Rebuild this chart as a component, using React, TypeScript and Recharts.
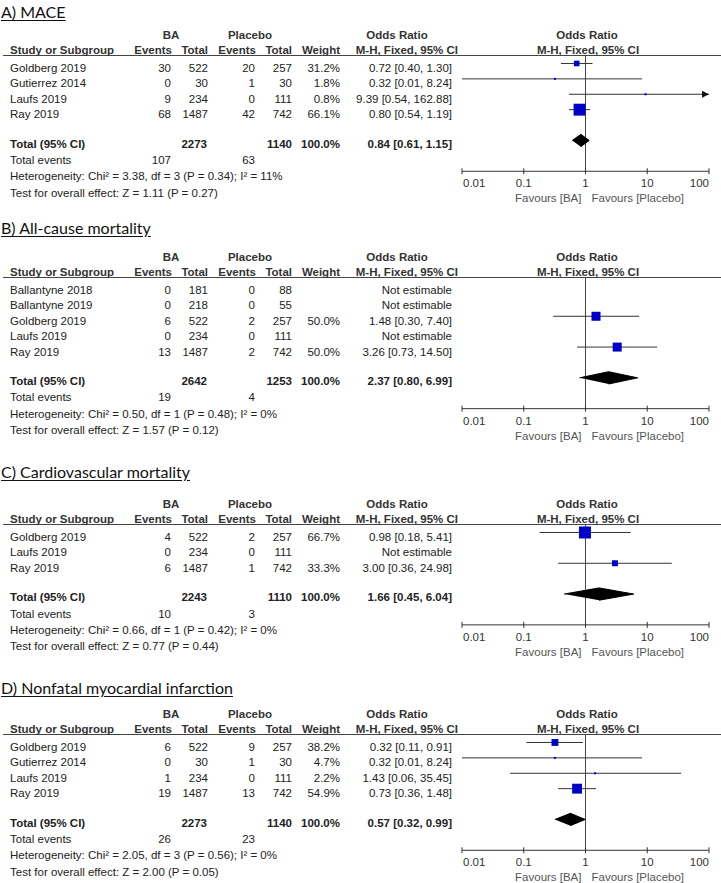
import React from 'react';
import { ScatterChart, Scatter, XAxis, YAxis, ReferenceLine } from 'recharts';

const ROW = 15.4;
const SANS = 'Arial, "Liberation Sans", Helvetica, sans-serif';
const INK = '#222';
const BOX = '#0000c8';
const orTicks = [0.01, 0.1, 1, 10, 100];

// A) MACE
const aStudies = ['Goldberg 2019', 'Gutierrez 2014', 'Laufs 2019', 'Ray 2019'];
const aBaEvents = [30, 0, 9, 68];
const aBaTotal = [522, 30, 234, 1487];
const aPlEvents = [20, 1, 0, 42];
const aPlTotal = [257, 30, 111, 742];
const aWeight = [31.2, 1.8, 0.8, 66.1];
const aOr = [0.72, 0.32, 9.39, 0.8];
const aLow = [0.4, 0.01, 0.54, 0.54];
const aHigh = [1.3, 8.24, 162.88, 1.19];
const aPooled = [0.84, 0.61, 1.15];
const aTotals = [2273, 1140];
const aEvents = [107, 63];
const aHet = 'Heterogeneity: Chi² = 3.38, df = 3 (P = 0.34); I² = 11%';
const aTest = 'Test for overall effect: Z = 1.11 (P = 0.27)';

// B) All-cause mortality
const bStudies = ['Ballantyne 2018', 'Ballantyne 2019', 'Goldberg 2019', 'Laufs 2019', 'Ray 2019'];
const bBaEvents = [0, 0, 6, 0, 13];
const bBaTotal = [181, 218, 522, 234, 1487];
const bPlEvents = [0, 0, 2, 0, 2];
const bPlTotal = [88, 55, 257, 111, 742];
const bWeight = [null, null, 50.0, null, 50.0];
const bOr = [null, null, 1.48, null, 3.26];
const bLow = [null, null, 0.3, null, 0.73];
const bHigh = [null, null, 7.4, null, 14.5];
const bPooled = [2.37, 0.8, 6.99];
const bTotals = [2642, 1253];
const bEvents = [19, 4];
const bHet = 'Heterogeneity: Chi² = 0.50, df = 1 (P = 0.48); I² = 0%';
const bTest = 'Test for overall effect: Z = 1.57 (P = 0.12)';

// C) Cardiovascular mortality
const cStudies = ['Goldberg 2019', 'Laufs 2019', 'Ray 2019'];
const cBaEvents = [4, 0, 6];
const cBaTotal = [522, 234, 1487];
const cPlEvents = [2, 0, 1];
const cPlTotal = [257, 111, 742];
const cWeight = [66.7, null, 33.3];
const cOr = [0.98, null, 3.0];
const cLow = [0.18, null, 0.36];
const cHigh = [5.41, null, 24.98];
const cPooled = [1.66, 0.45, 6.04];
const cTotals = [2243, 1110];
const cEvents = [10, 3];
const cHet = 'Heterogeneity: Chi² = 0.66, df = 1 (P = 0.42); I² = 0%';
const cTest = 'Test for overall effect: Z = 0.77 (P = 0.44)';

// D) Nonfatal myocardial infarction
const dStudies = ['Goldberg 2019', 'Gutierrez 2014', 'Laufs 2019', 'Ray 2019'];
const dBaEvents = [6, 0, 1, 19];
const dBaTotal = [522, 30, 234, 1487];
const dPlEvents = [9, 1, 0, 13];
const dPlTotal = [257, 30, 111, 742];
const dWeight = [38.2, 4.7, 2.2, 54.9];
const dOr = [0.32, 0.32, 1.43, 0.73];
const dLow = [0.11, 0.01, 0.06, 0.36];
const dHigh = [0.91, 8.24, 35.45, 1.48];
const dPooled = [0.57, 0.32, 0.99];
const dTotals = [2273, 1140];
const dEvents = [26, 23];
const dHet = 'Heterogeneity: Chi² = 2.05, df = 3 (P = 0.56); I² = 0%';
const dTest = 'Test for overall effect: Z = 2.00 (P = 0.05)';

const ci = (or: number, lo: number, hi: number) => `${or.toFixed(2)} [${lo.toFixed(2)}, ${hi.toFixed(2)}]`;

function Txt({ x, y, anchor = 'start', bold = false, color = INK, children }: any) {
    return (
        <text x={x} y={y} textAnchor={anchor} dominantBaseline="central" fontFamily={SANS} fontSize={11.5}
            fontWeight={bold ? 'bold' : 'normal'} fill={color}>
            {children}
        </text>
    );
}

function OrTick(props: any) {
    const { x, y, payload } = props;
    const v = payload.value;
    const anchor = v === orTicks[0] ? 'start' : v === orTicks[orTicks.length - 1] ? 'end' : 'middle';
    const lx = v === orTicks[0] ? x + 1 : x;
    return (
        <g>
            <line x1={x} x2={x} y1={y - 3} y2={y + 3} stroke="#333" />
            <text x={lx} y={y + 12} textAnchor={anchor} dominantBaseline="central" fontFamily={SANS} fontSize={11.5} fill="#333">
                {String(v)}
            </text>
            {v === 1 && (
                <>
                    <text x={x - 4} y={y + 27} textAnchor="end" dominantBaseline="central" fontFamily={SANS} fontSize={11.5} fill="#555">
                        Favours [BA]
                    </text>
                    <text x={x + 6} y={y + 27} textAnchor="start" dominantBaseline="central" fontFamily={SANS} fontSize={11.5} fill="#555">
                        Favours [Placebo]
                    </text>
                </>
            )}
        </g>
    );
}

function ForestPanel(p: any) {
    const { title, titleY, lineY, studies, baEvents, baTotal, plEvents, plTotal, weight, or, low, high, pooled, totals, events, het, test } = p;
    const n = studies.length;
    const rowY = (i: number) => lineY + 13 + i * ROW;
    const totalY = rowY(n - 1) + 29.5;
    const yMax = n + 3.55;
    const plotH = yMax * ROW;
    const totalRow = n + 1.55;

    const idx = studies.map((_: string, i: number) => i).filter((i: number) => or[i] != null);
    const boxes = idx.map((i: number) => ({ x: or[i], y: i + 0.55, w: weight[i] }));
    const lines = idx.map((i: number) => [
        { x: low[i], y: i + 0.55 },
        { x: Math.min(high[i], 100), y: i + 0.55, arrow: high[i] > 100 },
    ]);
    const diamond = [
        { x: pooled[1], y: totalRow },
        { x: pooled[0], y: totalRow - 0.4 },
        { x: pooled[2], y: totalRow },
        { x: pooled[0], y: totalRow + 0.4 },
    ];

    return (
        <>
            <div style={{
                position: 'absolute', left: 1, top: titleY - 12, fontFamily: 'Lato, "Open Sans", sans-serif', fontSize: 16,
                lineHeight: '24px', color: '#111', textDecoration: 'underline', textUnderlineOffset: 2, whiteSpace: 'nowrap',
            }}>
                {title}
            </div>
            <div style={{ position: 'absolute', left: 440, top: lineY, width: 281, height: plotH + 40 }}>
                <ScatterChart width={281} height={plotH + 40} margin={{ top: 0, right: 12, bottom: 0, left: 22 }}>
                    <XAxis type="number" dataKey="x" scale="log" domain={[0.01, 100]} ticks={orTicks} allowDataOverflow
                        interval={0} height={40} axisLine={{ stroke: '#333' }} tickLine={false} tickSize={0} tickMargin={0}
                        tick={<OrTick />} />
                    <YAxis type="number" dataKey="y" domain={[0, yMax]} reversed hide allowDataOverflow />
                    {lines.map((d: any, k: number) => (
                        <Scatter key={`ci${k}`} data={d} isAnimationActive={false} line={{ stroke: '#333', strokeWidth: 1 }}
                            lineJointType="linear" fill="#333"
                            shape={(s: any) => s.payload && s.payload.arrow
                                ? <polygon points={`${s.cx - 7},${s.cy - 3.5} ${s.cx},${s.cy} ${s.cx - 7},${s.cy + 3.5}`} fill="#111" />
                                : <g />} />
                    ))}
                    <Scatter data={boxes} isAnimationActive={false} fill={BOX}
                        shape={(s: any) => {
                            const side = Math.max(2, s.payload.w * 0.18);
                            return <rect x={s.cx - side / 2} y={s.cy - side / 2} width={side} height={side} fill={BOX} />;
                        }} />
                    <Scatter data={diamond} isAnimationActive={false} fill="#000" line={{ stroke: '#000', fill: '#000', strokeWidth: 1 }}
                        lineJointType="linear" shape={() => <g />} />
                    <ReferenceLine x={1} stroke="#444" strokeWidth={1} />
                </ScatterChart>
            </div>
            <svg width={721} height={883} style={{ position: 'absolute', left: 0, top: 0, pointerEvents: 'none' }}>
                <line x1={3} x2={721} y1={lineY + 0.5} y2={lineY + 0.5} stroke="#444" strokeWidth={1} />
                <Txt x={171} y={lineY - 20} anchor="middle" bold color="#333">BA</Txt>
                <Txt x={250} y={lineY - 20} anchor="middle" bold color="#333">Placebo</Txt>
                <Txt x={397} y={lineY - 20} anchor="middle" bold color="#333">Odds Ratio</Txt>
                <Txt x={587} y={lineY - 20} anchor="middle" bold color="#333">Odds Ratio</Txt>
                <Txt x={10} y={lineY - 5.5} bold color="#333">Study or Subgroup</Txt>
                <Txt x={172} y={lineY - 5.5} anchor="end" bold color="#333">Events</Txt>
                <Txt x={208} y={lineY - 5.5} anchor="end" bold color="#333">Total</Txt>
                <Txt x={256} y={lineY - 5.5} anchor="end" bold color="#333">Events</Txt>
                <Txt x={292} y={lineY - 5.5} anchor="end" bold color="#333">Total</Txt>
                <Txt x={340} y={lineY - 5.5} anchor="end" bold color="#333">Weight</Txt>
                <Txt x={458} y={lineY - 5.5} anchor="end" bold color="#333">M-H, Fixed, 95% CI</Txt>
                <Txt x={588} y={lineY - 5.5} anchor="middle" bold color="#333">M-H, Fixed, 95% CI</Txt>
                {studies.map((s: string, i: number) => (
                    <g key={s}>
                        <Txt x={10} y={rowY(i)}>{s}</Txt>
                        <Txt x={171} y={rowY(i)} anchor="end">{baEvents[i]}</Txt>
                        <Txt x={208} y={rowY(i)} anchor="end">{baTotal[i]}</Txt>
                        <Txt x={255} y={rowY(i)} anchor="end">{plEvents[i]}</Txt>
                        <Txt x={292} y={rowY(i)} anchor="end">{plTotal[i]}</Txt>
                        <Txt x={340} y={rowY(i)} anchor="end">{weight[i] != null ? `${weight[i].toFixed(1)}%` : ''}</Txt>
                        <Txt x={452} y={rowY(i)} anchor="end">{or[i] != null ? ci(or[i], low[i], high[i]) : 'Not estimable'}</Txt>
                    </g>
                ))}
                <Txt x={10} y={totalY} bold>Total (95% CI)</Txt>
                <Txt x={207} y={totalY} anchor="end" bold>{totals[0]}</Txt>
                <Txt x={292} y={totalY} anchor="end" bold>{totals[1]}</Txt>
                <Txt x={340} y={totalY} anchor="end" bold>100.0%</Txt>
                <Txt x={452} y={totalY} anchor="end" bold>{ci(pooled[0], pooled[1], pooled[2])}</Txt>
                <Txt x={10} y={totalY + 16.3}>Total events</Txt>
                <Txt x={171} y={totalY + 16.3} anchor="end">{events[0]}</Txt>
                <Txt x={255} y={totalY + 16.3} anchor="end">{events[1]}</Txt>
                <Txt x={10} y={totalY + 32.5}>{het}</Txt>
                <Txt x={10} y={totalY + 48.8}>{test}</Txt>
            </svg>
        </>
    );
}

export default function App() {
    return (
        <div style={{ position: 'absolute', left: 0, top: 0, width: 721, height: 883, background: '#fff', overflow: 'hidden' }}>
            <ForestPanel title="A) MACE" titleY={12} lineY={55}
                studies={aStudies} baEvents={aBaEvents} baTotal={aBaTotal} plEvents={aPlEvents} plTotal={aPlTotal}
                weight={aWeight} or={aOr} low={aLow} high={aHigh} pooled={aPooled} totals={aTotals} events={aEvents}
                het={aHet} test={aTest} />
            <ForestPanel title="B) All-cause mortality" titleY={228} lineY={277}
                studies={bStudies} baEvents={bBaEvents} baTotal={bBaTotal} plEvents={bPlEvents} plTotal={bPlTotal}
                weight={bWeight} or={bOr} low={bLow} high={bHigh} pooled={bPooled} totals={bTotals} events={bEvents}
                het={bHet} test={bTest} />
            <ForestPanel title="C) Cardiovascular mortality" titleY={472} lineY={524}
                studies={cStudies} baEvents={cBaEvents} baTotal={cBaTotal} plEvents={cPlEvents} plTotal={cPlTotal}
                weight={cWeight} or={cOr} low={cLow} high={cHigh} pooled={cPooled} totals={cTotals} events={cEvents}
                het={cHet} test={cTest} />
            <ForestPanel title="D) Nonfatal myocardial infarction" titleY={688} lineY={734}
                studies={dStudies} baEvents={dBaEvents} baTotal={dBaTotal} plEvents={dPlEvents} plTotal={dPlTotal}
                weight={dWeight} or={dOr} low={dLow} high={dHigh} pooled={dPooled} totals={dTotals} events={dEvents}
                het={dHet} test={dTest} />
        </div>
    );
}
